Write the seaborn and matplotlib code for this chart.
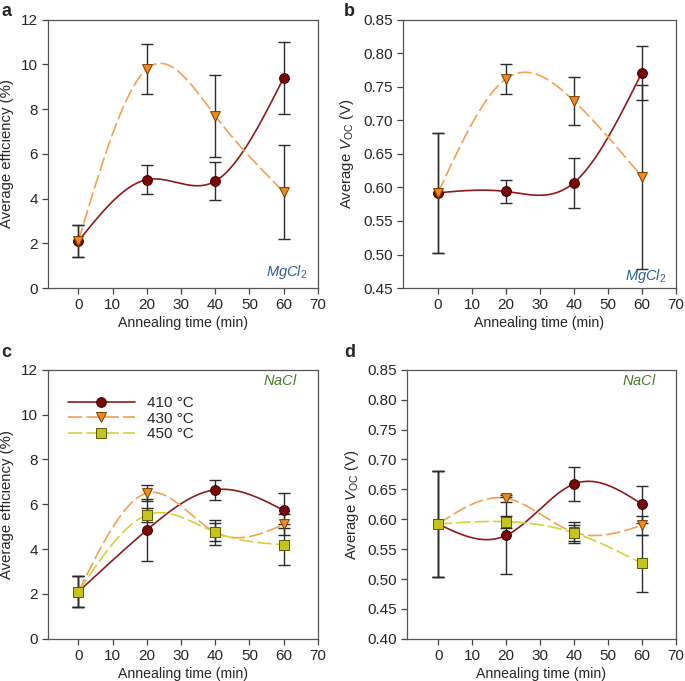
import numpy as np
import pandas as pd
import matplotlib
matplotlib.use('Agg')
import matplotlib.pyplot as plt
import seaborn as sns

# data
time = [0, 20, 40, 60]

# a: efficiency, MgCl2
eff_mg_410 = [2.1, 4.85, 4.78, 9.4]
eff_mg_410_err = [0.7, 0.65, 0.85, 1.62]
eff_mg_430 = [2.1, 9.8, 7.7, 4.3]
eff_mg_430_err = [0.7, 1.1, 1.82, 2.1]

# b: Voc, MgCl2
voc_mg_410 = [0.592, 0.594, 0.607, 0.771]
voc_mg_410_err = [0.089, 0.017, 0.037, 0.040]
voc_mg_430 = [0.592, 0.762, 0.729, 0.616]
voc_mg_430_err = [0.089, 0.022, 0.036, 0.137]

# c: efficiency, NaCl
eff_na_410 = [2.1, 4.85, 6.65, 5.73]
eff_na_410_err = [0.68, 1.4, 0.44, 0.77]
eff_na_430 = [2.1, 6.5, 4.75, 5.1]
eff_na_430_err = [0.68, 0.37, 0.57, 0.45]
eff_na_450 = [2.1, 5.52, 4.75, 4.2]
eff_na_450_err = [0.68, 0.33, 0.4, 0.9]

# d: Voc, NaCl
voc_na_410 = [0.592, 0.573, 0.659, 0.625]
voc_na_410_err = [0.089, 0.065, 0.029, 0.031]
voc_na_430 = [0.592, 0.635, 0.578, 0.590]
voc_na_430_err = [0.089, 0.006, 0.018, 0.016]
voc_na_450 = [0.592, 0.596, 0.577, 0.526]
voc_na_450_err = [0.089, 0.010, 0.013, 0.048]

temps = ['410 °C', '430 °C', '450 °C']

sns.set_style('ticks')
plt.rcParams['font.family'] = ['Liberation Sans', 'DejaVu Sans']
plt.rcParams['mathtext.fontset'] = 'custom'
plt.rcParams['mathtext.rm'] = 'Liberation Sans'
plt.rcParams['mathtext.it'] = 'Liberation Sans:italic'

styles = {
    '410 °C': dict(line='#8e1b1b', face='#7a0808', edge='#3d0000', marker='o', dash=None),
    '430 °C': dict(line='#f4a050', face='#f08a1c', edge='#7a3c00', marker='v', dash=(8.5, 2.5)),
    '450 °C': dict(line='#d2d23c', face='#c4c41c', edge='#5a5a00', marker='s', dash=(8.5, 2.5)),
}


def natural_spline(x, y, n=200):
    # natural cubic spline through the points
    x = np.asarray(x, float)
    y = np.asarray(y, float)
    k = len(x)
    h = np.diff(x)
    A = np.zeros((k, k))
    r = np.zeros(k)
    A[0, 0] = A[-1, -1] = 1
    for i in range(1, k - 1):
        A[i, i - 1] = h[i - 1]
        A[i, i] = 2 * (h[i - 1] + h[i])
        A[i, i + 1] = h[i]
        r[i] = 6 * ((y[i + 1] - y[i]) / h[i] - (y[i] - y[i - 1]) / h[i - 1])
    M = np.linalg.solve(A, r)
    xs = np.linspace(x[0], x[-1], n)
    ys = np.empty_like(xs)
    for j, xv in enumerate(xs):
        i = min(np.searchsorted(x, xv, side='right') - 1, k - 2)
        t0 = x[i + 1] - xv
        t1 = xv - x[i]
        ys[j] = (M[i] * t0 ** 3 + M[i + 1] * t1 ** 3) / (6 * h[i]) \
            + (y[i] / h[i] - M[i] * h[i] / 6) * t0 \
            + (y[i + 1] / h[i] - M[i + 1] * h[i] / 6) * t1
    return xs, ys


def draw_series(ax, label, vals, errs):
    st = styles[label]
    xs, ys = natural_spline(time, vals)
    ln, = ax.plot(xs, ys, color=st['line'], lw=1.2, zorder=2)
    if st['dash']:
        ln.set_dashes(st['dash'])
    ax.errorbar(time, vals, yerr=errs, fmt='none', ecolor='#2b2b2b',
                elinewidth=1.0, capsize=4.5, capthick=1.0, zorder=3)
    df = pd.DataFrame({'t': time, 'v': vals})
    sns.scatterplot(data=df, x='t', y='v', ax=ax, marker=st['marker'], s=50,
                    color=st['face'], edgecolor=st['edge'], linewidth=0.7,
                    zorder=4, legend=False)


def style_axes(ax, xmin, ylim, yticks, yfmt, ylabel):
    ax.set_xlim(xmin, 70)
    ax.set_ylim(*ylim)
    ax.set_xticks(range(0, 71, 10))
    ax.set_yticks(yticks)
    ax.set_yticklabels([yfmt.format(v) for v in yticks])
    ax.set_xlabel('Annealing time (min)', fontsize=10.2, labelpad=3)
    ax.set_ylabel(ylabel, fontsize=10.7, labelpad=5)
    ax.tick_params(labelsize=11, length=4, width=0.9, color='#444444', pad=3)
    for sp in ax.spines.values():
        sp.set_color('#555555')
        sp.set_linewidth(0.9)


fig = plt.figure(figsize=(6.85, 6.81), dpi=100)
ax_a = fig.add_axes([0.070, 0.577, 0.394, 0.394])
ax_b = fig.add_axes([0.588, 0.577, 0.3985, 0.394])
ax_c = fig.add_axes([0.070, 0.062, 0.394, 0.395])
ax_d = fig.add_axes([0.594, 0.062, 0.393, 0.395])

eff_ticks = [0, 2, 4, 6, 8, 10, 12]
voc_label = r'Average $V_{\rm OC}$ (V)'

# a
draw_series(ax_a, '410 °C', eff_mg_410, eff_mg_410_err)
draw_series(ax_a, '430 °C', eff_mg_430, eff_mg_430_err)
style_axes(ax_a, -8.9, (0, 12), eff_ticks, '{:.0f}', 'Average efficiency (%)')
ax_a.text(0.96, 0.025, r'$MgCl_2$', transform=ax_a.transAxes, ha='right', va='bottom',
          color='#2f5f8f', fontsize=10.5)

# b
draw_series(ax_b, '410 °C', voc_mg_410, voc_mg_410_err)
draw_series(ax_b, '430 °C', voc_mg_430, voc_mg_430_err)
style_axes(ax_b, -10.4, (0.45, 0.85), np.arange(0.45, 0.851, 0.05), '{:.2f}', voc_label)
ax_b.text(0.967, 0.012, r'$MgCl_2$', transform=ax_b.transAxes, ha='right', va='bottom',
          color='#2f5f8f', fontsize=10.5)

# c
draw_series(ax_c, '410 °C', eff_na_410, eff_na_410_err)
draw_series(ax_c, '430 °C', eff_na_430, eff_na_430_err)
draw_series(ax_c, '450 °C', eff_na_450, eff_na_450_err)
style_axes(ax_c, -8.9, (0, 12), eff_ticks, '{:.0f}', 'Average efficiency (%)')
ax_c.text(0.926, 0.96, r'$NaCl$', transform=ax_c.transAxes, ha='right', va='center',
          color='#4a7a2a', fontsize=10.5)

handles = []
for t in temps:
    st = styles[t]
    h, = ax_c.plot([], [], color=st['line'], lw=1.2, marker=st['marker'], markersize=7,
                   markerfacecolor=st['face'], markeredgecolor=st['edge'], markeredgewidth=0.7)
    if st['dash']:
        h.set_dashes(st['dash'])
    handles.append(h)
ax_c.legend(handles, temps, loc='upper left', bbox_to_anchor=(0.045, 0.93), frameon=False,
            fontsize=11, handlelength=4.4, labelspacing=0.1, borderpad=0, handletextpad=0.8)

# d
draw_series(ax_d, '410 °C', voc_na_410, voc_na_410_err)
draw_series(ax_d, '430 °C', voc_na_430, voc_na_430_err)
draw_series(ax_d, '450 °C', voc_na_450, voc_na_450_err)
style_axes(ax_d, -9.2, (0.40, 0.85), np.arange(0.40, 0.851, 0.05), '{:.2f}', voc_label)
ax_d.text(0.93, 0.96, r'$NaCl$', transform=ax_d.transAxes, ha='right', va='center',
          color='#4a7a2a', fontsize=10.5)

# panel letters
for lbl, x, y in [('a', 0.002, 0.995), ('b', 0.502, 0.995), ('c', 0.002, 0.495), ('d', 0.502, 0.495)]:
    fig.text(x, y, lbl, fontsize=13, fontweight='bold', ha='left', va='top')

fig.savefig('out.png', dpi=100)
